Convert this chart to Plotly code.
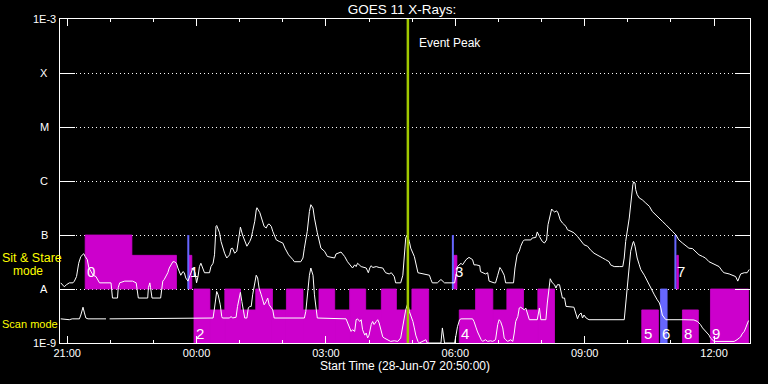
import math
import pandas as pd
import plotly.graph_objects as go

START = pd.Timestamp("2007-06-28 20:50:00")
END = START + pd.Timedelta(hours=16)
PEAK_MIN = 484  # minutes after start

# ---- GOES 11 long channel (1-8 A), minutes after start / flux (W m^-2)
long_min = [1, 6, 9, 13, 18, 20, 23, 26, 29, 33,
            35, 38, 40, 46, 50, 53, 55, 71, 73, 80,
            81, 83, 90, 101, 106, 109, 122, 123, 125, 126,
            128, 140, 142, 143, 145, 148, 150, 152, 155, 157,
            159, 162, 164, 166, 168, 171, 173, 175, 178, 181,
            185, 188, 190, 192, 194, 196, 199, 201, 208, 210,
            213, 215, 217, 218, 222, 224, 229, 232, 236, 238,
            240, 243, 246, 250, 251, 254, 257, 260, 264, 266,
            268, 271, 273, 274, 278, 282, 284, 287, 289, 291,
            294, 296, 301, 305, 310, 313, 318, 324, 326, 335,
            338, 340, 344, 347, 349, 352, 354, 358, 363, 368,
            372, 382, 384, 391, 396, 400, 405, 407, 410, 412,
            414, 417, 419, 426, 429, 431, 433, 435, 440, 444,
            449, 453, 458, 461, 465, 467, 474, 477, 479, 481,
            483, 486, 488, 491, 493, 498, 504, 514, 516, 518,
            525, 528, 530, 535, 546, 549, 552, 553, 558, 560,
            565, 569, 574, 576, 579, 584, 585, 588, 592, 595,
            597, 604, 606, 609, 611, 612, 614, 618, 620, 631,
            633, 636, 639, 641, 644, 646, 655, 657, 662, 664,
            667, 671, 674, 677, 679, 682, 684, 687, 688, 691,
            693, 696, 699, 704, 706, 711, 715, 720, 725, 729,
            734, 738, 743, 750, 755, 759, 764, 766, 771, 778,
            783, 785, 787, 792, 795, 797, 798, 800, 801, 803,
            806, 810, 815, 820, 824, 829, 834, 838, 843, 848,
            852, 857, 861, 866, 871, 875, 880, 884, 889, 894,
            898, 903, 908, 912, 917, 922, 924, 931, 936, 940,
            943, 945, 947, 952, 956, 959]
long_flux = [1.3e-8, 1.1e-8, 1.2e-8, 1.3e-8, 1.3e-8, 1.4e-8, 1.7e-8, 3.0e-8, 4.0e-8, 4.5e-8,
             4.0e-8, 3.5e-8, 2.5e-8, 1.8e-8, 1.7e-8, 1.4e-8, 1.3e-8, 1.3e-8, 6.8e-9, 6.8e-9,
             1.06e-8, 1.3e-8, 1.4e-8, 1.4e-8, 1.3e-8, 6.8e-9, 6.8e-9, 1.06e-8, 1.3e-8, 1.06e-8,
             6.8e-9, 6.8e-9, 1.12e-8, 1.4e-8, 1.5e-8, 1.8e-8, 2.0e-8, 2.45e-8, 3.0e-8, 3.2e-8,
             3.2e-8, 3.0e-8, 2.45e-8, 2.0e-8, 1.8e-8, 2.1e-8, 2.0e-8, 1.6e-8, 1.4e-8, 1.8e-8,
             2.45e-8, 2.0e-8, 1.3e-8, 1.7e-8, 2.6e-8, 3.0e-8, 2.45e-8, 2.0e-8, 2.0e-8, 2.6e-8,
             3.0e-8, 4.3e-8, 1.44e-7, 1.5e-7, 1.1e-7, 7.6e-8, 4.6e-8, 3.75e-8, 4.3e-8, 5.6e-8,
             5.7e-8, 4.6e-8, 5.0e-8, 1.35e-7, 1.4e-7, 1.0e-7, 7.6e-8, 6.2e-8, 7.6e-8, 8.8e-8,
             1.17e-7, 1.8e-7, 2.9e-7, 3.2e-7, 2.6e-7, 1.8e-7, 1.44e-7, 1.35e-7, 1.55e-7, 1.6e-7,
             1.44e-7, 1.17e-7, 8.1e-8, 7.6e-8, 7.1e-8, 5.7e-8, 4.3e-8, 3.5e-8, 3.2e-8, 3.2e-8,
             3.75e-8, 5.7e-8, 1.17e-7, 2.73e-7, 3.64e-7, 3.16e-7, 2.06e-7, 1.1e-7, 5.7e-8, 5.0e-8,
             4.0e-8, 3.75e-8, 4.45e-8, 4.84e-8, 4.0e-8, 3.2e-8, 2.6e-8, 2.45e-8, 2.8e-8, 2.6e-8,
             3.0e-8, 2.8e-8, 2.6e-8, 2.45e-8, 2.0e-8, 2.45e-8, 2.7e-8, 2.5e-8, 2.6e-8, 2.5e-8,
             2.45e-8, 2.0e-8, 1.9e-8, 2.0e-8, 1.7e-8, 1.3e-8, 1.3e-8, 1.8e-8, 4.3e-8, 8.8e-8,
             1.0e-7, 7.6e-8, 5.7e-8, 4.6e-8, 4.0e-8, 2.0e-8, 1.9e-8, 1.8e-8, 1.5e-8, 1.3e-8,
             1.3e-8, 1.4e-8, 1.5e-8, 1.3e-8, 1.3e-8, 1.3e-8, 2.1e-8, 2.6e-8, 3.0e-8, 2.8e-8,
             3.5e-8, 3.85e-8, 3.5e-8, 2.8e-8, 2.8e-8, 2.7e-8, 2.1e-8, 2.0e-8, 1.9e-8, 2.0e-8,
             1.4e-8, 1.3e-8, 1.3e-8, 1.8e-8, 2.3e-8, 2.5e-8, 2.3e-8, 1.8e-8, 1.3e-8, 1.3e-8,
             2.45e-8, 4.3e-8, 5.0e-8, 6.2e-8, 7.6e-8, 8.1e-8, 8.1e-8, 8.8e-8, 9.0e-8, 1.14e-7,
             9.4e-8, 7.6e-8, 7.1e-8, 8.1e-8, 1.55e-7, 2.56e-7, 3.03e-7, 2.73e-7, 2.67e-7, 2.8e-7,
             2.56e-7, 1.9e-7, 1.67e-7, 1.44e-7, 1.25e-7, 1.17e-7, 1.1e-7, 9.4e-8, 7.6e-8, 6.6e-8,
             6.2e-8, 5.3e-8, 4.6e-8, 4.0e-8, 3.75e-8, 3.5e-8, 3.2e-8, 2.8e-8, 2.6e-8, 2.6e-8,
             2.6e-8, 3.75e-8, 7.6e-8, 2.06e-7, 5.6e-7, 8.5e-7, 9.6e-7, 9.2e-7, 6.9e-7, 5.6e-7,
             4.84e-7, 4.5e-7, 3.9e-7, 3.4e-7, 2.73e-7, 2.38e-7, 2.06e-7, 1.8e-7, 1.55e-7, 1.35e-7,
             1.17e-7, 1.0e-7, 8.1e-8, 7.1e-8, 6.2e-8, 5.7e-8, 5.6e-8, 5.0e-8, 4.3e-8, 4.0e-8,
             3.75e-8, 3.2e-8, 3.0e-8, 2.8e-8, 2.6e-8, 2.1e-8, 2.0e-8, 1.9e-8, 1.8e-8, 1.7e-8,
             1.4e-8, 1.6e-8, 1.9e-8, 2.0e-8, 2.0e-8, 2.3e-8]

# ---- GOES 11 short channel (0.5-4 A)
short_min = [1, 13, 17, 27, 29, 32, 34, 36, 39, 64,
             66, 69, 213, 215, 217, 218, 220, 223, 225, 226,
             236, 238, 240, 245, 247, 250, 251, 253, 256, 257,
             260, 262, 264, 266, 268, 271, 273, 275, 277, 280,
             282, 284, 287, 289, 291, 294, 296, 298, 340, 342,
             345, 347, 349, 352, 354, 356, 358, 398, 400, 403,
             405, 407, 410, 412, 414, 417, 419, 421, 424, 426,
             428, 430, 433, 435, 437, 440, 442, 444, 447, 449,
             451, 456, 460, 465, 470, 474, 477, 479, 481, 484,
             486, 491, 493, 495, 498, 500, 509, 511, 530, 532,
             535, 549, 551, 553, 556, 558, 574, 576, 579, 581,
             586, 588, 592, 595, 599, 602, 606, 609, 611, 613,
             616, 618, 620, 623, 627, 630, 632, 634, 637, 639,
             641, 646, 648, 650, 653, 664, 667, 669, 676, 678,
             681, 682, 685, 688, 690, 692, 695, 697, 699, 702,
             704, 715, 718, 720, 722, 725, 727, 729, 732, 736,
             785, 786, 787, 790, 792, 794, 797, 798, 800, 801,
             803, 806, 808, 813, 817, 822, 827, 831, 834, 836,
             838, 841, 843, 868, 878, 882, 887, 889, 891, 894,
             896, 898, 901, 903, 905, 908, 910, 938, 940, 942,
             945, 947, 949, 952, 954, 956, 958]
short_flux = [2.8e-9, 2.7e-9, 2.8e-9, 2.8e-9, 3.3e-9, 4.6e-9, 3.6e-9, 2.9e-9, 2.8e-9, 2.8e-9,
              None, 2.8e-9, 2.9e-9, 4.45e-9, 9.0e-9, 9.0e-9, 7.8e-9, 5.1e-9, 3.1e-9, 2.9e-9,
              2.9e-9, 3.1e-9, 2.9e-9, 3.0e-9, 4.76e-9, 7.8e-9, 8.65e-9, 5.9e-9, 3.3e-9, 2.9e-9,
              2.9e-9, 4.45e-9, 4.76e-9, 4.76e-9, 7.8e-9, 1.4e-8, 1.8e-8, 1.6e-8, 1.04e-8, 7.8e-9,
              5.9e-9, 5.1e-9, 5.9e-9, 6.8e-9, 5.1e-9, 4.45e-9, 4.1e-9, 2.9e-9, 2.9e-9, 3.85e-9,
              1.04e-8, 1.8e-8, 2.45e-8, 1.8e-8, 7.8e-9, 4.45e-9, 2.9e-9, 2.8e-9, 2.35e-9, 1.9e-9,
              1.64e-9, 1.76e-9, 1.64e-9, 2.7e-9, 2.8e-9, 2.5e-9, 2.7e-9, 1.76e-9, 1.4e-9, 1.53e-9,
              1.24e-9, 1.4e-9, 2.2e-9, 2.5e-9, 2.2e-9, 2.5e-9, 2.7e-9, 2.35e-9, 1.64e-9, 1.3e-9,
              1.24e-9, 1.15e-9, 1.07e-9, 1.1e-9, 1.07e-9, 1.24e-9, 1.9e-9, 2.9e-9, 4.1e-9, 5.5e-9,
              3.85e-9, 2.5e-9, 1.9e-9, 1.4e-9, 1.07e-9, 1.0e-9, 1.15e-9, 1.0e-9, 1.0e-9, 1.9e-9,
              1.0e-9, 1.0e-9, 1.4e-9, 2.0e-9, 2.7e-9, 2.8e-9, 2.8e-9, 2.5e-9, 1.9e-9, 1.6e-9,
              1.15e-9, 1.07e-9, 1.15e-9, 1.07e-9, 1.1e-9, 1.07e-9, 1.15e-9, 2.2e-9, 2.7e-9, 2.5e-9,
              1.9e-9, 1.24e-9, 1.15e-9, 1.07e-9, 1.15e-9, 1.07e-9, 1.53e-9, 2.5e-9, 3.1e-9, 4.45e-9,
              4.6e-9, 4.1e-9, 4.45e-9, 3.6e-9, 2.7e-9, 2.7e-9, 4.45e-9, 2.7e-9, 2.7e-9, 5.5e-9,
              1.2e-8, 1.55e-8, 1.3e-8, 1.2e-8, 1.04e-8, 1.2e-8, 1.2e-8, 8.4e-9, 6.8e-9, 6.8e-9,
              4.76e-9, 4.6e-9, 3.3e-9, 2.8e-9, 3.3e-9, 3.6e-9, 2.9e-9, 3.3e-9, 2.9e-9, 2.7e-9,
              2.7e-9, 3.85e-9, 5.9e-9, 1.4e-8, 3.2e-8, 5.0e-8, 7.1e-8, 7.6e-8, 6.2e-8, 5.0e-8,
              3.75e-8, 2.8e-8, 2.3e-8, 1.8e-8, 1.4e-8, 1.04e-8, 7.8e-9, 6.3e-9, 5.5e-9, 4.45e-9,
              3.3e-9, 2.9e-9, 2.7e-9, 2.7e-9, 2.67e-9, 2.67e-9, 2.5e-9, 2.35e-9, 2.2e-9, 1.9e-9,
              1.76e-9, 1.64e-9, 1.53e-9, 1.4e-9, 1.24e-9, 1.15e-9, 1.07e-9, 1.07e-9, 1.1e-9, 1.15e-9,
              1.24e-9, 1.3e-9, 1.47e-9, 1.64e-9, 1.9e-9, 2.2e-9, 2.6e-9]

# ---- observing-mode blocks (minutes after start)
sit_start = [35, 100, 179.2, 547.6, 858.0]
sit_end = [100, 162, 183.4, 552.2, 860.4]
sit_top = [1e-7, 4.2e-8, 4.2e-8, 4.2e-8, 4.2e-8]
SIT_BOTTOM = 1e-8

scan_start = [186.4, 208.6, 229.3, 251.1, 272.3, 295.6, 315.0, 338.1, 360.3, 382.2,
              403.0, 425.3, 447.1, 468.0, 489.6, 555.5, 578.2, 602.2, 621.7, 644.9,
              664.8, 809.4, 866.0, 905.0]
scan_end = [208.6, 229.3, 251.1, 272.3, 295.6, 315.0, 338.1, 360.3, 382.2, 403.0,
            425.3, 447.1, 468.0, 489.6, 512.9, 578.2, 602.2, 621.7, 644.9, 664.8,
            688.0, 832.6, 888.2, 958.1]
scan_top = [1e-8, 4.1e-9, 1e-8, 4.1e-9, 1e-8, 4.1e-9, 1e-8, 4.1e-9, 1e-8, 4.1e-9,
            1e-8, 4.1e-9, 1e-8, 4.1e-9, 1e-8, 4.1e-9, 1e-8, 4.1e-9, 1e-8, 4.1e-9,
            1e-8, 4.1e-9, 4.1e-9, 1e-8]
SCAN_BOTTOM = 1e-9

blue_block_start = [835.4]
blue_block_end = [844.7]
blue_block_top = [1e-8]
blue_line_min = [178.5, 546.6, 856.2]

sit_label_text = ["0", "1", "3", "7"]
sit_label_min = [35, 178.5, 546.6, 856.2]
SIT_LABEL_Y = 2.1e-8
scan_label_text = ["2", "4", "5", "6", "8", "9"]
scan_label_min = [186.4, 555.5, 809.4, 835.4, 866.0, 905.0]
SCAN_LABEL_Y = 1.5e-9

y_tick_vals = [1e-3, 1e-4, 1e-5, 1e-6, 1e-7, 1e-8, 1e-9]
y_tick_text = ["1E-3", "X", "M", "C", "B", "A", "1E-9"]

MAGENTA = "#cc00cc"
BLUE = "#6666ff"
PEAK = "#a0c800"
FONT = "Liberation Sans"


def t(m):
    return None if m is None else START + pd.Timedelta(minutes=m)


def rects(starts, ends, tops, bottom):
    xs, ys = [], []
    for s, e, top in zip(starts, ends, tops):
        xs += [t(s), t(s), t(e), t(e), t(s), None]
        ys += [bottom, top, top, bottom, bottom, None]
    return xs, ys


fig = go.Figure()

x, y = rects(sit_start, sit_end, sit_top, SIT_BOTTOM)
fig.add_trace(go.Scatter(x=x, y=y, mode="lines", fill="toself", fillcolor=MAGENTA,
                         line=dict(color=MAGENTA, width=0.8), hoverinfo="skip"))
x, y = rects(scan_start, scan_end, scan_top, SCAN_BOTTOM)
fig.add_trace(go.Scatter(x=x, y=y, mode="lines", fill="toself", fillcolor=MAGENTA,
                         line=dict(color=MAGENTA, width=0.8), hoverinfo="skip"))
x, y = rects(blue_block_start, blue_block_end, blue_block_top, SCAN_BOTTOM)
fig.add_trace(go.Scatter(x=x, y=y, mode="lines", fill="toself", fillcolor=BLUE,
                         line=dict(color=BLUE, width=0.8), hoverinfo="skip"))
bx, by = [], []
for m in blue_line_min:
    bx += [t(m), t(m), None]
    by += [SIT_BOTTOM, 1e-7, None]
fig.add_trace(go.Scatter(x=bx, y=by, mode="lines", line=dict(color=BLUE, width=2),
                         hoverinfo="skip"))

fig.add_trace(go.Scatter(x=[t(m) for m in long_min], y=long_flux, mode="lines",
                         line=dict(color="white", width=1), name="1-8 A"))
fig.add_trace(go.Scatter(x=[t(m) for m in short_min], y=short_flux, mode="lines",
                         line=dict(color="white", width=1), name="0.5-4 A",
                         connectgaps=False))

fig.add_trace(go.Scatter(x=[t(PEAK_MIN), t(PEAK_MIN)], y=[1e-9, 1e-3], mode="lines",
                         line=dict(color=PEAK, width=2.5), hoverinfo="skip"))

ann = []
for txt, m in zip(sit_label_text, sit_label_min):
    ann.append(dict(x=t(m), y=math.log10(SIT_LABEL_Y), xref="x", yref="y", text=txt,
                    showarrow=False, xanchor="left", yanchor="middle",
                    font=dict(color="white", size=15, family=FONT)))
for txt, m in zip(scan_label_text, scan_label_min):
    ann.append(dict(x=t(m), y=math.log10(SCAN_LABEL_Y), xref="x", yref="y", text=txt,
                    showarrow=False, xanchor="left", yanchor="middle",
                    font=dict(color="white", size=15, family=FONT)))
for v, txt in zip(y_tick_vals, y_tick_text):
    ann.append(dict(x=0, xref="paper", xshift=-16, y=math.log10(v), yref="y", text=txt,
                    showarrow=False, xanchor="center", yanchor="middle",
                    font=dict(color="white", size=11, family=FONT)))
ann.append(dict(x=t(PEAK_MIN + 13), y=-3.44, xref="x", yref="y", text="Event Peak",
                showarrow=False, xanchor="left", yanchor="middle",
                font=dict(color="white", size=12, family=FONT)))
ann.append(dict(x=0, xref="paper", xshift=-60, y=(343 - 258) / 324, yref="paper",
                text="Sit & Stare", showarrow=False, xanchor="left", yanchor="middle",
                font=dict(color="#ffff00", size=12.5, family=FONT)))
ann.append(dict(x=0, xref="paper", xshift=-49, y=(343 - 271) / 324, yref="paper",
                text="mode", showarrow=False, xanchor="left", yanchor="middle",
                font=dict(color="#ffff00", size=12, family=FONT)))
ann.append(dict(x=0, xref="paper", xshift=-60, y=(343 - 323.5) / 324, yref="paper",
                text="Scan mode", showarrow=False, xanchor="left", yanchor="middle",
                font=dict(color="#ffff00", size=11, family=FONT)))

fig.update_layout(
    width=768, height=384,
    margin=dict(l=60, r=18, t=19, b=41, pad=0),
    paper_bgcolor="black", plot_bgcolor="black",
    showlegend=False, hovermode=False,
    font=dict(family=FONT, color="white", size=11),
    title=dict(text="GOES 11 X-Rays:", x=402 / 768, xanchor="center",
               y=1 - 9 / 384, yanchor="middle",
               font=dict(size=13.5, color="white", family=FONT)),
    annotations=ann,
)
fig.update_xaxes(
    type="date", range=[START, END], showline=True, linecolor="white", linewidth=1,
    mirror="ticks", ticks="inside", ticklen=7, tickwidth=1, tickcolor="white",
    tick0="2007-06-28 21:00:00", dtick=3 * 3600000, tickformat="%H:%M",
    tickfont=dict(size=11, color="white", family=FONT),
    showgrid=False, zeroline=False,
    minor=dict(ticks="inside", ticklen=3, tickwidth=1, tickcolor="white",
               tick0="2007-06-28 21:00:00", dtick=3600000, showgrid=False),
    title=dict(text="Start Time (28-Jun-07 20:50:00)", standoff=2,
               font=dict(size=12, color="white", family=FONT)),
)
fig.update_yaxes(
    type="log", range=[-9, -3], showline=True, linecolor="white", linewidth=1,
    mirror="ticks", ticks="inside", ticklen=15, tickwidth=1, tickcolor="white",
    tickvals=y_tick_vals, showticklabels=False,
    showgrid=True, gridcolor="white", gridwidth=1, griddash="1px,3px",
    zeroline=False,
)

# remove the browser's default page margin so the figure sits at the window origin
fig.write_html("out.html",
               config={"displayModeBar": False},
               post_script="document.body.style.margin='0';"
                           "document.body.style.background='black';")
